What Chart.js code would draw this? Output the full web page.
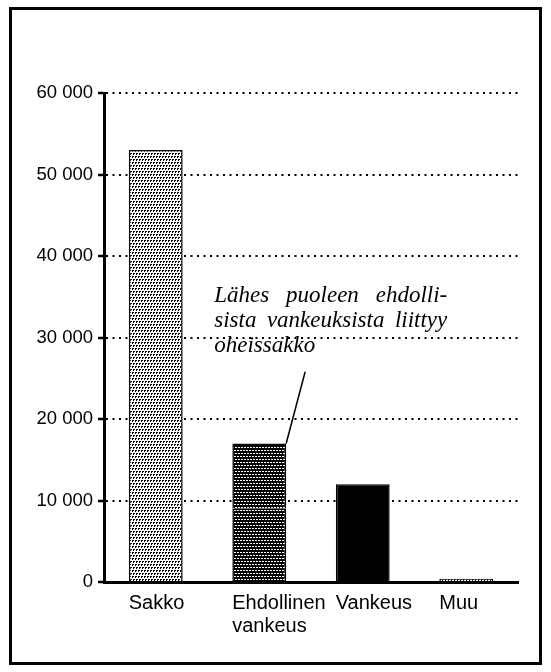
<!DOCTYPE html>
<html>
<head>
<meta charset="utf-8">
<script src="https://cdn.jsdelivr.net/npm/chart.js@4/dist/chart.umd.min.js"></script>
<style>
  html, body { margin: 0; padding: 0; background: #fff; }
  #wrap { position: relative; width: 551px; height: 672px; }
  #frame { position: absolute; left: 9px; top: 7px; width: 533px; height: 658px;
           border: 3px solid #000; box-sizing: border-box; pointer-events: none; }
  canvas { position: absolute; left: 0; top: 0; }
</style>
</head>
<body>
<div id="wrap">
  <canvas id="c" width="551" height="672"></canvas>
  <div id="frame"></div>
</div>
<script>
// ---- data ----
const categories = [['Sakko'], ['Ehdollinen', 'vankeus'], ['Vankeus'], ['Muu']];
const baseValues = [53000, 9000, 12000, 400];
const withFineValues = [null, 8000, null, null];
const yMin = 0, yMax = 60000, yStep = 10000;
const noteLines = ['Lähes puoleen ehdolli-', 'sista vankeuksista liittyy', 'oheissakko'];

// ---- patterns ----
function makePattern(bg, fg, dots, size) {
  const t = document.createElement('canvas');
  t.width = size; t.height = size;
  const g = t.getContext('2d');
  g.fillStyle = bg; g.fillRect(0, 0, size, size);
  g.fillStyle = fg;
  dots.forEach(d => g.fillRect(d[0], d[1], d[2], d[3]));
  return document.getElementById('c').getContext('2d').createPattern(t, 'repeat');
}
const lightDots = makePattern('#ffffff', '#000000',
  [[0,0,2,1],[3,0,2,1],[1,3,2,1],[4,3,2,1],[0,1,1,1],[3,1,1,1],[1,4,1,1],[4,4,1,1]], 6);
const darkDots = makePattern('#000000', '#ffffff',
  [[0,0,2,1],[3,0,2,1],[1,3,2,1],[4,3,2,1]], 6);
const fills = [lightDots, darkDots, '#000000', lightDots];

Chart.defaults.font.family = '"Liberation Sans", Arial, Helvetica, sans-serif';
Chart.defaults.color = '#000';

const notePlugin = {
  id: 'note',
  afterDatasetsDraw(chart) {
    const ctx = chart.ctx;
    const xs = chart.scales.x, ys = chart.scales.y;
    const bar = chart.getDatasetMeta(1).data[1];
    const barRight = bar.x + bar.width / 2;
    const barTop = ys.getPixelForValue(baseValues[1] + withFineValues[1]);
    // leader line
    ctx.save();
    ctx.strokeStyle = '#000';
    ctx.lineWidth = 1.5;
    ctx.beginPath();
    ctx.moveTo(barRight, barTop);
    ctx.lineTo(barRight + 19, ys.getPixelForValue(25800));
    ctx.stroke();
    // text
    ctx.font = 'italic 23px "Liberation Serif", "Times New Roman", serif';
    ctx.fillStyle = '#000';
    ctx.textBaseline = 'alphabetic';
    const left = xs.getPixelForValue(1) - 45;
    const base = ys.getPixelForValue(34400);
    const justify = 233;
    noteLines.forEach((line, i) => {
      const y = base + i * 25;
      if (i < noteLines.length - 1) {
        const words = line.split(' ');
        const wsum = words.reduce((s, w) => s + ctx.measureText(w).width, 0);
        const gap = (justify - wsum) / (words.length - 1);
        let x = left;
        words.forEach(w => { ctx.fillText(w, x, y); x += ctx.measureText(w).width + gap; });
      } else {
        ctx.fillText(line, left, y);
      }
    });
    ctx.restore();
  }
};

new Chart(document.getElementById('c'), {
  type: 'bar',
  data: {
    labels: categories,
    datasets: [
      {
        label: 'Tuomiot',
        data: baseValues,
        backgroundColor: fills,
        borderColor: '#000',
        borderWidth: 1.5,
        borderSkipped: 'start'
      },
      {
        label: 'Oheissakko',
        data: withFineValues,
        backgroundColor: darkDots,
        borderColor: '#000',
        borderWidth: 1.5,
        borderSkipped: 'start'
      }
    ]
  },
  options: {
    responsive: false,
    animation: false,
    devicePixelRatio: 1,
    categoryPercentage: 1,
    barPercentage: 0.52,
    layout: { padding: { left: 14, top: 93, right: 33, bottom: 30 } },
    plugins: { legend: { display: false }, tooltip: { enabled: false }, title: { display: false } },
    scales: {
      x: {
        stacked: true,
        offset: true,
        grid: { display: false, drawTicks: false },
        border: { display: true, color: '#000', width: 3 },
        ticks: {
          align: 'start',
          labelOffset: -27,
          padding: 10,
          maxRotation: 0,
          autoSkip: false,
          font: { size: 20, lineHeight: 1.15 }
        },
        afterFit(s) { s.height = 60; }
      },
      y: {
        stacked: true,
        min: yMin, max: yMax,
        grid: {
          color: '#000',
          lineWidth: 2,
          tickLength: 6,
          tickBorderDash: [],
          tickWidth: 2.5,
          tickColor: '#000'
        },
        border: { display: true, color: '#000', width: 3, dash: [2, 4.5] },
        ticks: {
          stepSize: yStep,
          padding: 5,
          font: { size: 18.5 },
          callback: v => v === 0 ? '0' : String(v).replace(/\B(?=(\d{3})+(?!\d))/g, ' ')
        },
        afterFit(s) { s.width = 90; }
      }
    }
  },
  plugins: [notePlugin]
});
</script>
</body>
</html>
